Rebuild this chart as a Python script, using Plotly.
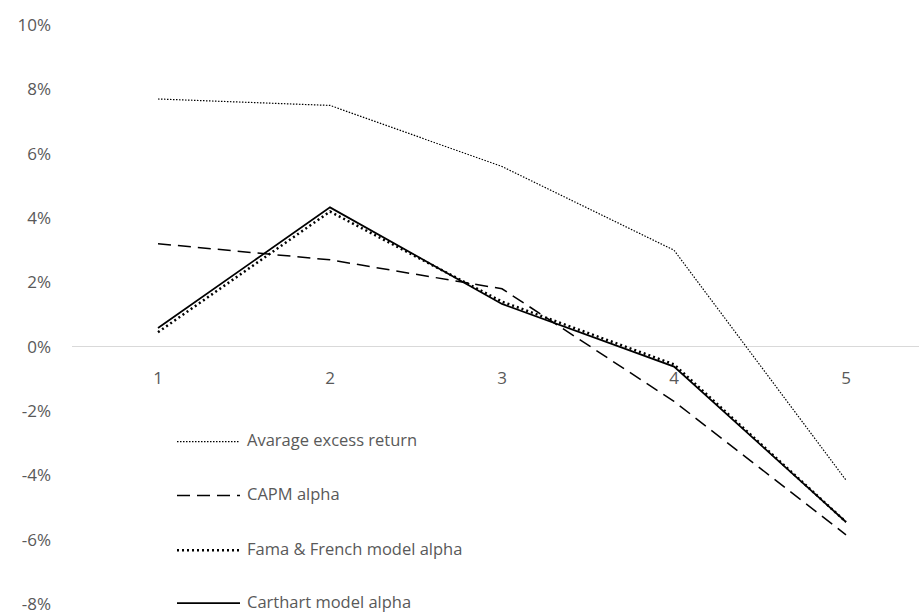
import plotly.graph_objects as go

# Portfolio quintiles and their returns / alphas (in percent)
portfolios = [1, 2, 3, 4, 5]
avg_excess_return = [7.7, 7.5, 5.6, 3.0, -4.15]
capm_alpha = [3.2, 2.7, 1.8, -1.7, -5.85]
fama_french_alpha = [0.45, 4.2, 1.4, -0.55, -5.45]
carhart_alpha = [0.58, 4.33, 1.33, -0.62, -5.45]

y_ticks = [-8, -6, -4, -2, 0, 2, 4, 6, 8, 10]
y_tick_text = [f"{v}%" for v in y_ticks]

series = [
    ("Avarage excess return", avg_excess_return, dict(color="black", width=1.2, dash="1.5px,1.5px")),
    ("CAPM alpha", capm_alpha, dict(color="black", width=1.5, dash="13px,7px")),
    ("Fama & French model alpha", fama_french_alpha, dict(color="black", width=2.5, dash="2px,3px")),
    ("Carthart model alpha", carhart_alpha, dict(color="black", width=1.75)),
]

font_family = "Open Sans, Liberation Sans, sans-serif"
label_color = "#595959"

# plot area geometry in pixels (used to place the in-plot key)
W, H = 919, 615
ML, MR, MT, MB = 72, 0, 25, 9
PW, PH = W - ML - MR, H - MT - MB
Y_MIN, Y_MAX = -8.0, 10.0


def px_to_paper_x(px):
    return (px - ML) / PW


def px_to_paper_y(py):
    return (H - MB - py) / PH


fig = go.Figure()
for name, values, line in series:
    fig.add_trace(go.Scatter(
        x=portfolios, y=values, name=name, mode="lines",
        line=line, showlegend=False,
    ))

# Key in the lower-left part of the plot: line sample + label per series
key_rows = [443, 497, 552, 605]
for (name, _, line), row in zip(series, key_rows):
    fig.add_shape(
        type="line", xref="paper", yref="paper",
        x0=px_to_paper_x(177), x1=px_to_paper_x(240),
        y0=px_to_paper_y(row), y1=px_to_paper_y(row),
        line=line,
    )
    fig.add_annotation(
        xref="paper", yref="paper",
        x=px_to_paper_x(246), y=px_to_paper_y(row - 2),
        xanchor="left", yanchor="middle", showarrow=False, borderpad=0,
        text=name, font=dict(size=16.5, color=label_color),
    )

fig.update_layout(
    width=W, height=H,
    margin=dict(l=ML, r=MR, t=MT, b=MB),
    plot_bgcolor="white", paper_bgcolor="white",
    font=dict(family=font_family, size=17, color=label_color),
    showlegend=False,
    xaxis=dict(
        range=[0.5, 0.5 + PW / 172],
        tickvals=portfolios, ticktext=[str(p) for p in portfolios],
        showgrid=False, zeroline=False, showline=False,
        anchor="free", position=(0 - Y_MIN) / (Y_MAX - Y_MIN),
        ticks="outside", ticklen=0, ticklabelstandoff=16,
        tickfont=dict(size=17, color=label_color),
    ),
    yaxis=dict(
        range=[Y_MIN, Y_MAX], tickvals=y_ticks, ticktext=y_tick_text,
        showgrid=False, zeroline=True, zerolinecolor="#d9d9d9", zerolinewidth=1.3,
        showline=False, ticklabelstandoff=20, ticklabeloverflow="allow",
        tickfont=dict(size=17, color=label_color),
    ),
)

fig.write_html("out.html")
